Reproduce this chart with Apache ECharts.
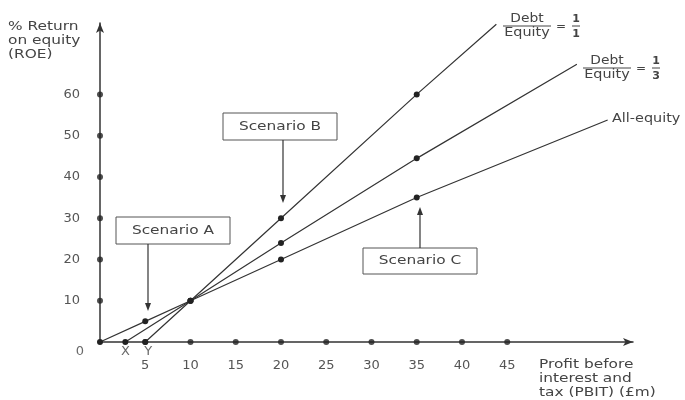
<!DOCTYPE html>
<html>
<head>
<meta charset="utf-8">
<script src="https://cdn.jsdelivr.net/npm/echarts@6/dist/echarts.min.js"></script>
<style>html,body{margin:0;padding:0;background:#fff}#c{width:685px;height:400px}</style>
</head>
<body>
<div id="c"></div>
<script>
// ---- data ----
const xTicks = [5, 10, 15, 20, 25, 30, 35, 40, 45];
const yTicks = [10, 20, 30, 40, 50, 60];
const allEquity = [[0, 0], [5, 5], [10, 10], [20, 20], [35, 35], [56.1, 53.8]];
const debtThird = [[2.8, 0], [10, 10], [20, 24], [35, 44.5], [52.7, 67.3]];
const debtOne = [[5, 0], [10, 10], [20, 30], [35, 60], [43.8, 77.0]];
const originLabels = ['0', 'X', 'Y'];
const originLabelX = [0, 2.8, 5];
const lineLabels = ['All-equity'];
const scenarioNames = ['Scenario A', 'Scenario B', 'Scenario C'];
const xTitle = 'Profit before\ninterest and\ntax (PBIT) (£m)';
const yTitle = '% Return\non equity\n(ROE)';

const FONT = 'DejaVu Sans';
const INK = '#333';
const TXT = '#444';

function lineData(arr) {
  return arr.map((p, i) => i === arr.length - 1 ? { value: p, symbol: 'none' } : { value: p });
}
function lineSeries(arr) {
  return {
    type: 'line', data: lineData(arr), symbol: 'circle', symbolSize: 6,
    showAllSymbol: true, clip: false, silent: true,
    lineStyle: { color: INK, width: 1.2 }, itemStyle: { color: '#222' }, z: 3
  };
}
const labelOffsets = [[-20, 10], [0, 10], [3, 10]];

const chart = echarts.init(document.getElementById('c'), null, { renderer: 'canvas' });

function txt(x, y, text, opts, sx) {
  return {
    type: 'text', x: x, y: y, scaleX: sx || 1.28, z: 10,
    style: Object.assign({ text: text, font: '12px "' + FONT + '"', fill: TXT, align: 'left', verticalAlign: 'middle' }, opts || {})
  };
}
function frac(cx, cy, num, den) {
  return [
    { type: 'text', x: cx, y: cy - 7, scaleX: 1.15, style: { text: 'Debt', font: '12px "' + FONT + '"', fill: TXT, align: 'center', verticalAlign: 'middle' } },
    { type: 'line', shape: { x1: cx - 24, y1: cy, x2: cx + 24, y2: cy }, style: { stroke: TXT, lineWidth: 1 } },
    { type: 'text', x: cx, y: cy + 7, scaleX: 1.2, style: { text: 'Equity', font: '12px "' + FONT + '"', fill: TXT, align: 'center', verticalAlign: 'middle' } },
    { type: 'text', x: cx + 34, y: cy + 1, style: { text: '=', font: '12px "' + FONT + '"', fill: TXT, align: 'center', verticalAlign: 'middle' } },
    { type: 'text', x: cx + 49, y: cy - 7, style: { text: num, font: 'bold 11px "' + FONT + '"', fill: TXT, align: 'center', verticalAlign: 'middle' } },
    { type: 'line', shape: { x1: cx + 45, y1: cy, x2: cx + 53, y2: cy }, style: { stroke: TXT, lineWidth: 1 } },
    { type: 'text', x: cx + 49, y: cy + 8, style: { text: den, font: 'bold 11px "' + FONT + '"', fill: TXT, align: 'center', verticalAlign: 'middle' } }
  ];
}
function box(x, y, w, h, label) {
  return [
    { type: 'rect', shape: { x: x, y: y, width: w, height: h }, style: { fill: '#fff', stroke: '#555', lineWidth: 1 }, z: 9 },
    txt(x + w / 2, y + h / 2, label, { align: 'center' })
  ];
}
function arrow(x, y1, y2) {
  const dir = y2 > y1 ? 1 : -1;
  return [
    { type: 'line', shape: { x1: x, y1: y1, x2: x, y2: y2 - dir * 6 }, style: { stroke: INK, lineWidth: 1.2 }, z: 9 },
    { type: 'polygon', shape: { points: [[x - 3, y2 - dir * 8], [x + 3, y2 - dir * 8], [x, y2]] }, style: { fill: INK }, z: 9 }
  ];
}

const graphics = [].concat(
  [txt(8, 27, yTitle.split('\n')[0]), txt(8, 41, yTitle.split('\n')[1]), txt(8, 55, yTitle.split('\n')[2])],
  [txt(539, 365, xTitle.split('\n')[0]), txt(539, 379, xTitle.split('\n')[1]), txt(539, 393, xTitle.split('\n')[2])],
  frac(527, 26, '1', '1'),
  frac(607, 68, '1', '3'),
  [txt(612, 119, lineLabels[0], null, 1.2)],
  box(116, 217, 114, 27, scenarioNames[0]), arrow(148, 244, 311),
  box(223, 113, 114, 27, scenarioNames[1]), arrow(283, 140, 203),
  box(363, 248, 114, 26, scenarioNames[2]), arrow(420, 248, 207)
);

chart.setOption({
  backgroundColor: '#fff',
  animation: false,
  grid: { left: 100, right: 52, top: 23, bottom: 58 },
  xAxis: {
    type: 'value', min: 0, max: 58.9, interval: 5,
    axisLine: { show: true, onZero: false, symbol: ['none', 'arrow'], symbolSize: [6, 10], lineStyle: { color: INK, width: 1.5 } },
    axisTick: { show: false }, splitLine: { show: false },
    axisLabel: { margin: 17, color: '#555', fontFamily: FONT, fontSize: 13, showMaxLabel: false,
      formatter: v => xTicks.includes(v) ? String(v) : '' }
  },
  yAxis: {
    type: 'value', min: 0, max: 77.3, interval: 10,
    axisLine: { show: true, onZero: false, symbol: ['none', 'arrow'], symbolSize: [6, 10], lineStyle: { color: INK, width: 1.5 } },
    axisTick: { show: false }, splitLine: { show: false },
    axisLabel: { margin: 20, color: '#555', fontFamily: FONT, fontSize: 13, showMaxLabel: false,
      formatter: v => yTicks.includes(v) ? String(v) : '' }
  },
  series: [
    lineSeries(allEquity),
    lineSeries(debtThird),
    lineSeries(debtOne),
    {
      type: 'scatter', symbol: 'circle', symbolSize: 6, itemStyle: { color: '#222' }, silent: true, z: 4,
      data: xTicks.map(v => [v, 0]).concat(yTicks.map(v => [0, v]))
    },
    {
      type: 'scatter', symbolSize: 0, silent: true, z: 5,
      data: originLabels.map((t, i) => ({
        value: [originLabelX[i], 0], name: t,
        label: { show: true, position: 'inside', offset: labelOffsets[i], formatter: '{b}',
          color: '#444', fontFamily: FONT, fontSize: 13 }
      }))
    }
  ],
  graphic: graphics
});
</script>
</body>
</html>
